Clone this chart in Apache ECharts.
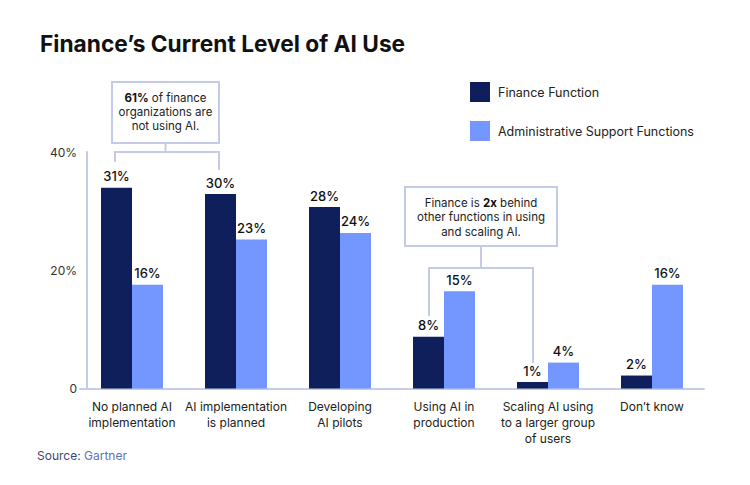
<!DOCTYPE html>
<html lang="en">
<head>
    <meta charset="UTF-8">
    <title>Finance’s Current Level of AI Use</title>
    <script src="https://cdn.jsdelivr.net/npm/echarts@6/dist/echarts.min.js"></script>
    <style type="text/css">
        html, body {
            margin: 0;
            height: 100%;
            background: #fff;
        }
    </style>
</head>
<body>

<div id="main" style="width: 750px;height:485px;"></div>

<script>
    const categories = ['No planned AI\nimplementation', 'AI implementation\nis planned', 'Developing\nAI pilots',
        'Using AI in\nproduction', 'Scaling AI using\nto a larger group\nof users', 'Don’t know'];
    const financeValues = [31, 30, 28, 8, 1, 2];
    const adminValues = [16, 23, 24, 15, 4, 16];
    const yTickLabels = ['0', '20%', '40%'];

    const FONT = 'Inter, "Noto Sans", sans-serif';
    const LINE = '#c3cbe8';
    const step = 18.25; // drawn tick spacing in the source

    const myChart = echarts.init(document.getElementById('main'), null, {renderer: 'svg'});
    const option = {
        animation: false,
        textStyle: {fontFamily: FONT},
        title: {
            text: 'Finance’s Current Level of AI Use',
            left: 35,
            top: 27,
            textStyle: {fontSize: 22.7, fontWeight: 'bold', color: '#111', fontFamily: FONT}
        },
        legend: {
            orient: 'vertical',
            left: 470,
            top: 82,
            padding: 0,
            itemWidth: 20,
            itemHeight: 20,
            itemGap: 19,
            icon: 'rect',
            textStyle: {fontSize: 12.5, color: '#222', fontFamily: FONT, padding: [0, 0, 0, 3]}
        },
        grid: {
            left: 80,
            width: 624,
            top: 152,
            bottom: 96.5
        },
        xAxis: {
            type: 'category',
            data: categories,
            axisTick: {show: false},
            axisLine: {lineStyle: {color: LINE, width: 2}},
            axisLabel: {
                interval: 0,
                margin: 10,
                fontSize: 12,
                lineHeight: 16,
                color: '#222',
                fontFamily: FONT
            }
        },
        yAxis: {
            type: 'value',
            min: 0,
            max: step * 2,
            interval: step,
            offset: -7,
            splitLine: {show: false},
            axisLine: {show: true, lineStyle: {color: LINE, width: 2}},
            axisLabel: {
                margin: 10,
                fontSize: 12,
                color: '#333',
                fontFamily: FONT,
                formatter: function (v) {
                    return yTickLabels[Math.round(v / step)];
                }
            }
        },
        series: [
            {
                name: 'Finance Function',
                type: 'bar',
                data: financeValues,
                barWidth: 31,
                barGap: '0%',
                itemStyle: {color: '#0e1f5b'},
                label: {
                    show: true, position: 'top', distance: 5, formatter: '{c}%',
                    fontSize: 13, fontWeight: 500, color: '#111', fontFamily: FONT
                }
            },
            {
                name: 'Administrative Support Functions',
                type: 'bar',
                data: adminValues,
                barWidth: 31,
                itemStyle: {color: '#7396ff'},
                label: {
                    show: true, position: 'top', distance: 5, formatter: '{c}%',
                    fontSize: 13, fontWeight: 500, color: '#111', fontFamily: FONT
                }
            }
        ],
        graphic: [
            // callout 1
            {type: 'rect', shape: {x: 112, y: 82, width: 107, height: 61},
                style: {fill: '#fff', stroke: LINE, lineWidth: 2}},
            {type: 'polyline', shape: {points: [[165.5, 143], [165.5, 152]]},
                style: {stroke: LINE, lineWidth: 2, fill: null}},
            {type: 'polyline', shape: {points: [[115, 162], [115, 152], [219, 152], [219, 170]]},
                style: {stroke: LINE, lineWidth: 2, fill: null}},
            {type: 'text', x: 165.5, y: 112,
                style: {
                    text: '{b|61%} of finance\norganizations are\nnot using AI.',
                    align: 'center', verticalAlign: 'middle',
                    font: '11.5px ' + FONT, fill: '#222', lineHeight: 14,
                    rich: {b: {fontWeight: 'bold', fontSize: 11.5, fontFamily: FONT, fill: '#111'}}
                }},
            // callout 2
            {type: 'rect', shape: {x: 405, y: 187, width: 152, height: 59},
                style: {fill: '#fff', stroke: LINE, lineWidth: 2}},
            {type: 'polyline', shape: {points: [[481, 246], [481, 268]]},
                style: {stroke: LINE, lineWidth: 2, fill: null}},
            {type: 'polyline', shape: {points: [[429, 316], [429, 268], [533, 268], [533, 363]]},
                style: {stroke: LINE, lineWidth: 2, fill: null}},
            {type: 'text', x: 481, y: 217,
                style: {
                    text: 'Finance is {b|2x} behind\nother functions in using\nand scaling AI.',
                    align: 'center', verticalAlign: 'middle',
                    font: '11.5px ' + FONT, fill: '#222', lineHeight: 14.5,
                    rich: {b: {fontWeight: 'bold', fontSize: 11.5, fontFamily: FONT, fill: '#111'}}
                }},
            // source
            {type: 'text', x: 37, y: 455,
                style: {
                    text: '{a|Source:} {b|Gartner}',
                    verticalAlign: 'middle',
                    font: '12px ' + FONT,
                    rich: {
                        a: {fill: '#3a4676', fontSize: 12, fontFamily: FONT},
                        b: {fill: '#5d72b8', fontSize: 12, fontFamily: FONT}
                    }
                }}
        ]
    };

    myChart.setOption(option);

    window.addEventListener("resize", function () {
        myChart.resize();
    });
</script>
</body>
</html>
